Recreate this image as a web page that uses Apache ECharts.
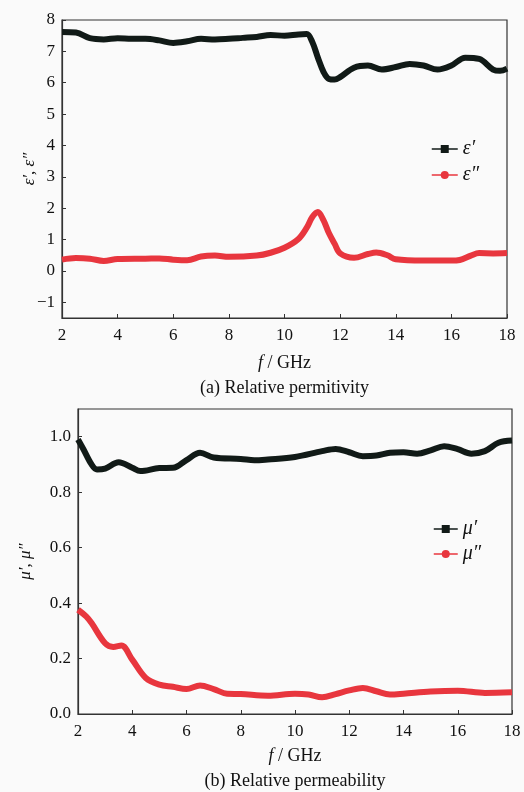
<!DOCTYPE html>
<html>
<head>
<meta charset="utf-8">
<script src="https://cdn.jsdelivr.net/npm/echarts@6/dist/echarts.min.js"></script>
<style>
  html, body { margin: 0; padding: 0; background: #fafafa; }
  #chart { width: 524px; height: 792px; }
</style>
</head>
<body>
<div id="chart"></div>
<script>
// (a) 相对介电常数
var epsRealFreq = [2, 2.5, 3, 3.5, 4, 4.5, 5, 5.5, 6, 6.5, 7, 7.5, 8, 8.5, 9, 9.5, 10, 10.5, 10.8, 11, 11.2, 11.4, 11.6, 11.8, 12, 12.5, 13, 13.5, 14, 14.5, 15, 15.5, 16, 16.5, 17, 17.5, 17.75, 18];
var epsReal = [7.62, 7.6, 7.42, 7.38, 7.42, 7.4, 7.4, 7.35, 7.27, 7.32, 7.4, 7.38, 7.4, 7.43, 7.46, 7.52, 7.5, 7.54, 7.55, 7.3, 6.8, 6.35, 6.12, 6.1, 6.18, 6.48, 6.55, 6.42, 6.5, 6.6, 6.55, 6.42, 6.55, 6.8, 6.76, 6.42, 6.38, 6.45];
var epsImagFreq = [2, 2.5, 3, 3.5, 4, 5, 5.5, 6, 6.5, 7, 7.5, 8, 9, 9.5, 10, 10.5, 10.8, 11, 11.2, 11.4, 11.6, 11.8, 12, 12.5, 13, 13.3, 13.7, 14, 15, 16, 16.3, 16.7, 17, 17.5, 18];
var epsImag = [0.36, 0.41, 0.39, 0.32, 0.38, 0.39, 0.4, 0.36, 0.34, 0.46, 0.49, 0.45, 0.49, 0.58, 0.74, 1.02, 1.38, 1.72, 1.88, 1.62, 1.2, 0.87, 0.56, 0.42, 0.54, 0.59, 0.5, 0.37, 0.33, 0.33, 0.35, 0.49, 0.57, 0.56, 0.57];
var epsTicks = [-1, 0, 1, 2, 3, 4, 5, 6, 7, 8];

// (b) 相对磁导率
var muRealFreq = [2, 2.2, 2.5, 2.7, 3, 3.5, 4, 4.3, 5, 5.5, 6, 6.5, 7, 8, 8.5, 9, 10, 11, 11.5, 12, 12.5, 13, 13.5, 14, 14.5, 15, 15.5, 16, 16.5, 17, 17.5, 18];
var muReal = [0.99, 0.955, 0.9, 0.882, 0.885, 0.908, 0.888, 0.876, 0.887, 0.888, 0.916, 0.942, 0.925, 0.92, 0.915, 0.918, 0.927, 0.948, 0.956, 0.944, 0.93, 0.932, 0.942, 0.944, 0.939, 0.951, 0.966, 0.955, 0.939, 0.948, 0.978, 0.986];
var muImagFreq = [2, 2.3, 2.5, 3, 3.3, 3.6, 4, 4.5, 5, 5.5, 6, 6.5, 7, 7.5, 8, 9, 10, 10.5, 11, 11.5, 12, 12.5, 13, 13.5, 14, 15, 16, 17, 18];
var muImag = [0.376, 0.352, 0.328, 0.255, 0.242, 0.247, 0.196, 0.13, 0.106, 0.098, 0.09, 0.103, 0.09, 0.073, 0.072, 0.066, 0.073, 0.07, 0.06, 0.072, 0.085, 0.094, 0.082, 0.07, 0.073, 0.081, 0.084, 0.076, 0.078];
var muTicks = [0, 0.2, 0.4, 0.6, 0.8, 1.0];

var xTicks = [2, 4, 6, 8, 10, 12, 14, 16, 18];

var BLACK = '#111a17', RED = '#e8363e', AXIS = '#333';
var FONT = '"Liberation Serif", "Times New Roman", serif';

function pairs(xs, ys) {
    var out = [];
    for (var i = 0; i < xs.length; i++) out.push([xs[i], ys[i]]);
    return out;
}

function xAxisOf(gridIndex, caption, gap) {
    return {
        type: 'value', gridIndex: gridIndex,
        min: xTicks[0], max: xTicks[xTicks.length - 1],
        axisLine: { onZero: false, lineStyle: { color: AXIS, width: 1.2 } },
        axisTick: { inside: true, length: 4, customValues: xTicks, lineStyle: { color: AXIS } },
        splitLine: { show: false },
        axisLabel: { color: '#111', fontFamily: FONT, fontSize: 17, margin: 9, customValues: xTicks },
        name: '{i|f} / GHz\n{c|' + caption + '}',
        nameLocation: 'middle', nameGap: gap, nameMoveOverlap: false,
        nameTextStyle: {
            color: '#111', fontFamily: FONT, fontSize: 18, lineHeight: 25,
            rich: {
                i: { fontStyle: 'italic', fontFamily: FONT, fontSize: 18, color: '#111' },
                c: { fontFamily: FONT, fontSize: 18, color: '#111' }
            }
        }
    };
}

function yAxisOf(gridIndex, min, max, ticks, digits, name, gap) {
    return {
        type: 'value', gridIndex: gridIndex,
        min: min, max: max,
        axisLine: { show: true, onZero: false, lineStyle: { color: AXIS, width: 1.2 } },
        axisTick: { inside: true, length: 4, customValues: ticks, lineStyle: { color: AXIS } },
        splitLine: { show: false },
        axisLabel: {
            color: '#111', fontFamily: FONT, fontSize: 17, margin: 7, customValues: ticks,
            formatter: function (v) {
                return v < 0 ? '\u2212' + Math.abs(v).toFixed(digits) : v.toFixed(digits);
            }
        },
        name: name, nameLocation: 'middle', nameGap: gap, nameRotate: 90, nameMoveOverlap: false,
        nameTextStyle: { color: '#111', fontFamily: FONT, fontSize: 17, fontStyle: 'italic' }
    };
}

function lineSeries(name, xi, yi, data, color, symbol) {
    return {
        name: name, type: 'line', xAxisIndex: xi, yAxisIndex: yi,
        data: data, smooth: 0.35, showSymbol: false,
        symbol: symbol, symbolSize: 9,
        lineStyle: { color: color, width: 6 },
        itemStyle: { color: color },
        animation: false
    };
}

var legendText = { fontFamily: FONT, fontSize: 20, fontStyle: 'italic', color: '#111' };

var option = {
    backgroundColor: '#fafafa',
    grid: [
        { left: 62, right: 17, top: 20, height: 298, outerBoundsMode: 'none', show: true, borderColor: AXIS, borderWidth: 1.2, backgroundColor: 'transparent' },
        { left: 78, right: 12, top: 409, height: 305, outerBoundsMode: 'none', show: true, borderColor: AXIS, borderWidth: 1.2, backgroundColor: 'transparent' }
    ],
    legend: [
        {
            left: 426, top: 134, orient: 'vertical', itemWidth: 26, itemHeight: 10, itemGap: 6,
            data: ['\u03b5\u2032', '\u03b5\u2033'], textStyle: legendText,
            lineStyle: { width: 1.5 }
        },
        {
            left: 428, top: 514, orient: 'vertical', itemWidth: 24, itemHeight: 10, itemGap: 5,
            data: ['\u03bc\u2032', '\u03bc\u2033'], textStyle: legendText,
            lineStyle: { width: 1.5 }
        }
    ],
    xAxis: [xAxisOf(0, '(a) Relative permitivity', 33), xAxisOf(1, '(b) Relative permeability', 30)],
    yAxis: [
        yAxisOf(0, -1.5, 8, epsTicks, 0, '\u03b5\u2032, \u03b5\u2033', 24),
        yAxisOf(1, 0, 1.1, muTicks, 1, '\u03bc\u2032, \u03bc\u2033', 44)
    ],
    series: [
        lineSeries('\u03b5\u2032', 0, 0, pairs(epsRealFreq, epsReal), BLACK, 'rect'),
        lineSeries('\u03b5\u2033', 0, 0, pairs(epsImagFreq, epsImag), RED, 'circle'),
        lineSeries('\u03bc\u2032', 1, 1, pairs(muRealFreq, muReal), BLACK, 'rect'),
        lineSeries('\u03bc\u2033', 1, 1, pairs(muImagFreq, muImag), RED, 'circle')
    ]
};

var myChart = echarts.init(document.getElementById('chart'), null, { renderer: 'canvas' });
myChart.setOption(option);
</script>
</body>
</html>
